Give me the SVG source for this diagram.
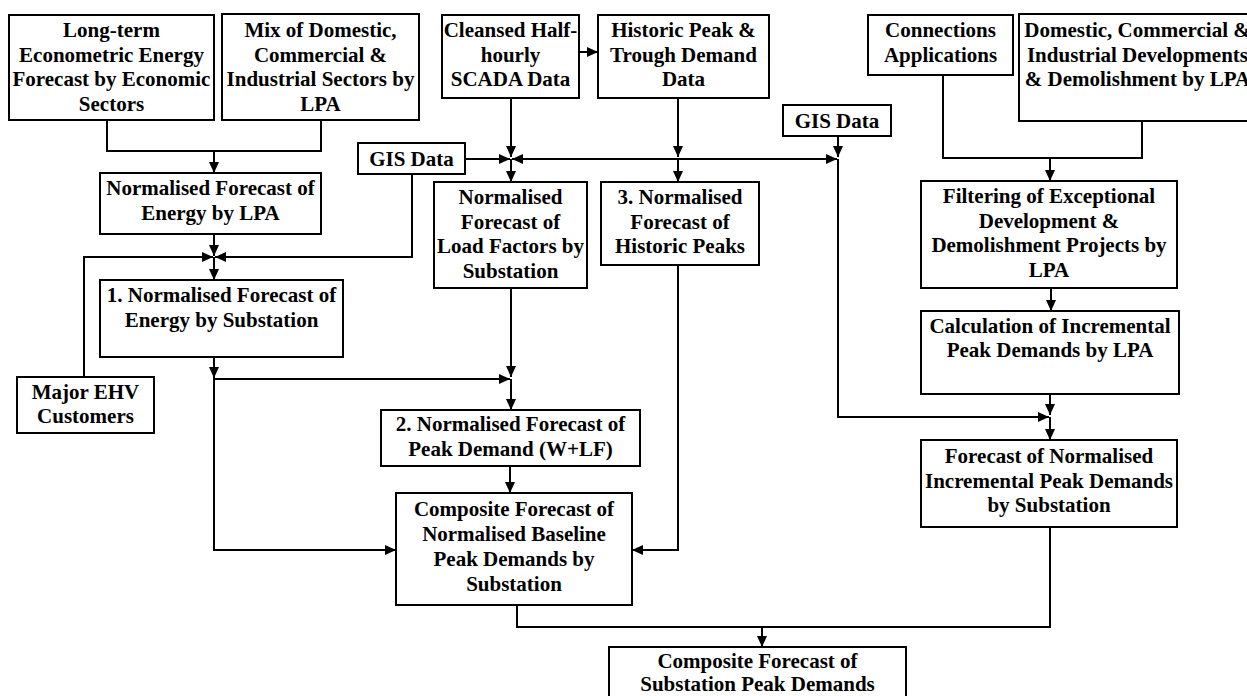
<svg xmlns="http://www.w3.org/2000/svg" width="1247" height="696" viewBox="0 0 1247 696">
<style>
.box{fill:#fff;stroke:#000;stroke-width:2}
.t{font-family:"Liberation Serif","Times New Roman",serif;font-weight:bold;font-size:21px;fill:#000;text-anchor:middle}
.c{fill:none;stroke:#000;stroke-width:2}
.a{marker-end:url(#ah)}
</style>
<defs>
<marker id="ah" markerUnits="userSpaceOnUse" markerWidth="11" markerHeight="10" refX="11" refY="5" orient="auto-start-reverse" viewBox="0 0 11 10">
<path d="M0,0 L11,5 L0,10 z" fill="#000"/>
</marker>
</defs>
<rect width="1247" height="696" fill="#fff"/>
<g id="connectors">
<path class="c" d="M107,120 V151 H321 V120"/>
<path class="c a" d="M214,151 V173"/>
<path class="c a" d="M214,234 V256"/>
<path class="c a" d="M412,174 V257 H215"/>
<path class="c a" d="M84,377 V257 H213"/>
<path class="c a" d="M214,257 V280"/>
<path class="c a" d="M214,357 V378"/>
<path class="c a" d="M214,378 V550 H396"/>
<path class="c a" d="M214,379 H510"/>
<path class="c a" d="M579,52 H598"/>
<path class="c a" d="M511,98 V157"/>
<path class="c a" d="M465,159 H510"/>
<path class="c" d="M512,159 H837" marker-start="url(#ah)" marker-end="url(#ah)"/>
<path class="c a" d="M511,159 V182"/>
<path class="c a" d="M678,98 V157"/>
<path class="c a" d="M678,159 V182"/>
<path class="c a" d="M511,288 V377"/>
<path class="c a" d="M511,379 V410"/>
<path class="c a" d="M510,466 V493"/>
<path class="c a" d="M678,265 V550 H632"/>
<path class="c" d="M517,605 V627 H1050 V527"/>
<path class="c a" d="M762,627 V647"/>
<path class="c" d="M943,75 V158 H1142 V121"/>
<path class="c a" d="M1050,158 V181"/>
<path class="c a" d="M1051,288 V311"/>
<path class="c a" d="M838,136 V157"/>
<path class="c a" d="M838,159 V417 H1049"/>
<path class="c a" d="M1050,394 V415"/>
<path class="c a" d="M1050,417 V440"/>
</g>
<g id="n_longterm"><rect class="box" x="9" y="15" width="205" height="105"/>
<text class="t" x="111.5" y="37">Long-term</text><text class="t" x="111.5" y="61.5">Econometric Energy</text><text class="t" x="111.5" y="86">Forecast by Economic</text><text class="t" x="111.5" y="110.5">Sectors</text></g>
<g id="n_mix"><rect class="box" x="222" y="14" width="197" height="106"/>
<text class="t" x="320.5" y="37">Mix of Domestic,</text><text class="t" x="320.5" y="61.5">Commercial &amp;</text><text class="t" x="320.5" y="86">Industrial Sectors by</text><text class="t" x="320.5" y="110.5">LPA</text></g>
<g id="n_lpa"><rect class="box" x="100" y="173" width="221" height="61"/>
<text class="t" x="210.5" y="195">Normalised Forecast of</text><text class="t" x="210.5" y="219.5">Energy by LPA</text></g>
<g id="n_gis1"><rect class="box" x="358" y="143" width="107" height="31"/>
<text class="t" x="411.5" y="166">GIS Data</text></g>
<g id="n_sub1"><rect class="box" x="100" y="280" width="243" height="77"/>
<text class="t" x="221.5" y="302">1. Normalised Forecast of</text><text class="t" x="221.5" y="326.5">Energy by Substation</text></g>
<g id="n_ehv"><rect class="box" x="17" y="377" width="137" height="56"/>
<text class="t" x="85.5" y="398.5">Major EHV</text><text class="t" x="85.5" y="423">Customers</text></g>
<g id="n_scada"><rect class="box" x="442" y="15" width="137" height="83"/>
<text class="t" x="510.5" y="37">Cleansed Half-</text><text class="t" x="510.5" y="61.5">hourly</text><text class="t" x="510.5" y="86">SCADA Data</text></g>
<g id="n_hist"><rect class="box" x="598" y="15" width="171" height="83"/>
<text class="t" x="683.5" y="37">Historic Peak &amp;</text><text class="t" x="683.5" y="61.5">Trough Demand</text><text class="t" x="683.5" y="86">Data</text></g>
<g id="n_load"><rect class="box" x="434" y="182" width="153" height="106"/>
<text class="t" x="510.5" y="204">Normalised</text><text class="t" x="510.5" y="228.5">Forecast of</text><text class="t" x="510.5" y="253">Load Factors by</text><text class="t" x="510.5" y="277.5">Substation</text></g>
<g id="n_peaks3"><rect class="box" x="601" y="182" width="158" height="83"/>
<text class="t" x="680" y="204">3. Normalised</text><text class="t" x="680" y="228.5">Forecast of</text><text class="t" x="680" y="253">Historic Peaks</text></g>
<g id="n_peak2"><rect class="box" x="381" y="410" width="259" height="56"/>
<text class="t" x="510.5" y="431">2. Normalised Forecast of</text><text class="t" x="510.5" y="455.5">Peak Demand (W+LF)</text></g>
<g id="n_comp"><rect class="box" x="396" y="493" width="236" height="112"/>
<text class="t" x="514" y="516">Composite Forecast of</text><text class="t" x="514" y="541">Normalised Baseline</text><text class="t" x="514" y="566">Peak Demands by</text><text class="t" x="514" y="590.5">Substation</text></g>
<g id="n_final"><rect class="box" x="609" y="647" width="297" height="60"/>
<text class="t" x="757.5" y="668">Composite Forecast of</text><text class="t" x="757.5" y="691">Substation Peak Demands</text></g>
<g id="n_conn"><rect class="box" x="868" y="15" width="145" height="60"/>
<text class="t" x="940.5" y="37">Connections</text><text class="t" x="940.5" y="61.5">Applications</text></g>
<g id="n_dom"><rect class="box" x="1019" y="14" width="240" height="107"/>
<text class="t" x="1137.5" y="37">Domestic, Commercial &amp;</text><text class="t" x="1137.5" y="61.5">Industrial Developments</text><text class="t" x="1137.5" y="86">&amp; Demolishment by LPA</text></g>
<g id="n_gis2"><rect class="box" x="783" y="105" width="108" height="31"/>
<text class="t" x="837" y="128">GIS Data</text></g>
<g id="n_filter"><rect class="box" x="921" y="181" width="256" height="107"/>
<text class="t" x="1049" y="203">Filtering of Exceptional</text><text class="t" x="1049" y="227.5">Development &amp;</text><text class="t" x="1049" y="252">Demolishment Projects by</text><text class="t" x="1049" y="276.5">LPA</text></g>
<g id="n_calc"><rect class="box" x="921" y="311" width="258" height="83"/>
<text class="t" x="1050" y="332.5">Calculation of Incremental</text><text class="t" x="1050" y="357">Peak Demands by LPA</text></g>
<g id="n_inc"><rect class="box" x="921" y="440" width="256" height="87"/>
<text class="t" x="1049" y="463">Forecast of Normalised</text><text class="t" x="1049" y="487.5">Incremental Peak Demands</text><text class="t" x="1049" y="512">by Substation</text></g>
</svg>
